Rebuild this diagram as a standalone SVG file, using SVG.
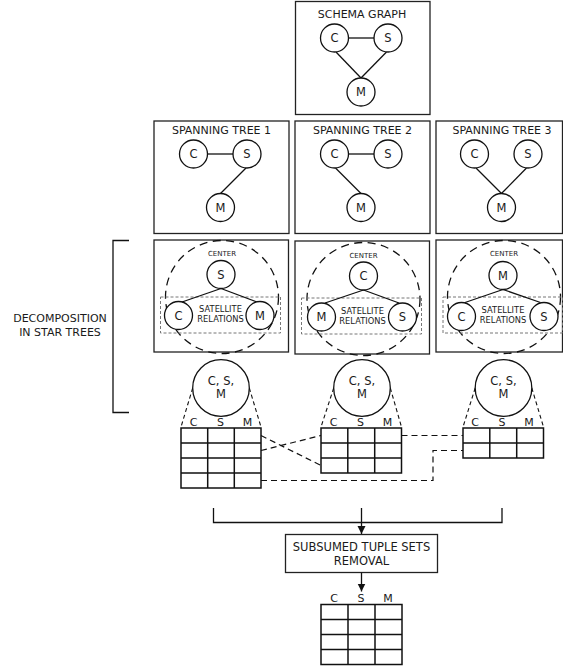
<svg xmlns="http://www.w3.org/2000/svg" width="563" height="667" viewBox="0 0 563 667">
<defs>
<style>
text{font-family:"DejaVu Sans","Liberation Sans",sans-serif;fill:#1a1a1a;text-anchor:middle}
.box{fill:#fff;stroke:#222;stroke-width:1.3}
.nd{fill:#fff;stroke:#111;stroke-width:1.3}
.e{stroke:#111;stroke-width:1.3;fill:none}
.ttl{font-size:11px}
.lbl{font-size:11.5px}
.sm{font-size:7px}
.sat{font-size:8.3px}
.star{fill:none;stroke:#111;stroke-width:1.3;stroke-dasharray:8,5.5}
.satr{fill:none;stroke:#777;stroke-width:1;stroke-dasharray:3,2}
.tbl{fill:#fff;stroke:#111;stroke-width:1.5}
.cone{stroke:#111;stroke-width:1.1;stroke-dasharray:4,3;fill:none}
.cn{stroke:#111;stroke-width:1.2;stroke-dasharray:6,4;fill:none}
.col{font-size:11px}
</style>
<marker id="arr" markerUnits="userSpaceOnUse" markerWidth="9" markerHeight="9" refX="8" refY="4" orient="auto">
<path d="M0,0 L8,4 L0,8 z" fill="#111"/>
</marker>
</defs>

<g id="schema-graph">
<rect class="box" x="295.5" y="1.5" width="134.5" height="113"/>
<text class="ttl" x="362" y="18">SCHEMA GRAPH</text>
<line class="e" x1="348.5" y1="38" x2="374" y2="38"/>
<line class="e" x1="336" y1="52" x2="361" y2="78"/>
<line class="e" x1="386.5" y1="52" x2="361" y2="78"/>
<circle class="nd" cx="334.5" cy="38" r="14"/><text class="lbl" x="334.5" y="42.2">C</text>
<circle class="nd" cx="388" cy="38" r="14"/><text class="lbl" x="388" y="42.2">S</text>
<circle class="nd" cx="361" cy="92" r="14"/><text class="lbl" x="361" y="96.2">M</text>
</g>

<g id="spanning-tree-1">
<rect class="box" x="154" y="121" width="135" height="112.5"/>
<text class="ttl" x="221.5" y="134">SPANNING TREE 1</text>
<line class="e" x1="207.5" y1="154" x2="233" y2="154"/>
<line class="e" x1="246" y1="168" x2="220.5" y2="193.5"/>
<circle class="nd" cx="193.5" cy="154" r="14"/><text class="lbl" x="193.5" y="158.2">C</text>
<circle class="nd" cx="247" cy="154" r="14"/><text class="lbl" x="247" y="158.2">S</text>
<circle class="nd" cx="220.5" cy="207.5" r="14"/><text class="lbl" x="220.5" y="211.7">M</text>
</g>

<g id="spanning-tree-2">
<rect class="box" x="295" y="121" width="135" height="112.5"/>
<text class="ttl" x="362.5" y="134">SPANNING TREE 2</text>
<line class="e" x1="348.5" y1="154" x2="374" y2="154"/>
<line class="e" x1="335.5" y1="168" x2="361" y2="193.5"/>
<circle class="nd" cx="334.5" cy="154" r="14"/><text class="lbl" x="334.5" y="158.2">C</text>
<circle class="nd" cx="388" cy="154" r="14"/><text class="lbl" x="388" y="158.2">S</text>
<circle class="nd" cx="361" cy="207.5" r="14"/><text class="lbl" x="361" y="211.7">M</text>
</g>

<g id="spanning-tree-3">
<rect class="box" x="436" y="121" width="126.5" height="112.5"/>
<text class="ttl" x="502" y="134">SPANNING TREE 3</text>
<line class="e" x1="476" y1="168" x2="501.5" y2="193.5"/>
<line class="e" x1="526.5" y1="168" x2="501.5" y2="193.5"/>
<circle class="nd" cx="474.5" cy="154" r="14"/><text class="lbl" x="474.5" y="158.2">C</text>
<circle class="nd" cx="528" cy="154" r="14"/><text class="lbl" x="528" y="158.2">S</text>
<circle class="nd" cx="501.5" cy="207.5" r="14"/><text class="lbl" x="501.5" y="211.7">M</text>
</g>

<g id="star-tree-1">
<rect class="box" x="154" y="240" width="134.5" height="112"/>
<circle class="star" cx="222" cy="297" r="56.5"/>
<rect class="satr" x="160.5" y="297" width="120" height="36"/>
<text class="sm" x="222" y="256">CENTER</text>
<line class="e" x1="221" y1="288.5" x2="182" y2="302"/>
<line class="e" x1="221" y1="288.5" x2="257" y2="302"/>
<circle class="nd" cx="221" cy="274.5" r="14"/><text class="lbl" x="221" y="278.7">S</text>
<circle class="nd" cx="178.5" cy="315.5" r="14"/><text class="lbl" x="178.5" y="319.7">C</text>
<circle class="nd" cx="260" cy="315.5" r="14"/><text class="lbl" x="260" y="319.7">M</text>
<text class="sat" x="220.5" y="312">SATELLITE</text>
<text class="sat" x="220.5" y="322">RELATIONS</text>
</g>

<g id="star-tree-2">
<rect class="box" x="295" y="241" width="134.5" height="113"/>
<circle class="star" cx="363.5" cy="299" r="56.5"/>
<rect class="satr" x="301.5" y="298" width="120" height="36"/>
<text class="sm" x="363.5" y="257.5">CENTER</text>
<line class="e" x1="363.5" y1="290" x2="325" y2="303"/>
<line class="e" x1="363.5" y1="290" x2="399" y2="303"/>
<circle class="nd" cx="363.5" cy="276" r="14"/><text class="lbl" x="363.5" y="280.2">C</text>
<circle class="nd" cx="321.5" cy="317" r="14"/><text class="lbl" x="321.5" y="321.2">M</text>
<circle class="nd" cx="402.5" cy="317" r="14"/><text class="lbl" x="402.5" y="321.2">S</text>
<text class="sat" x="362.5" y="313.5">SATELLITE</text>
<text class="sat" x="362.5" y="323.5">RELATIONS</text>
</g>

<g id="star-tree-3">
<rect class="box" x="436" y="240" width="126.5" height="112"/>
<circle class="star" cx="504" cy="297" r="56.5"/>
<rect class="satr" x="443" y="297" width="119.5" height="36"/>
<text class="sm" x="504" y="256">CENTER</text>
<line class="e" x1="503" y1="289.5" x2="465" y2="302.5"/>
<line class="e" x1="503" y1="289.5" x2="540.5" y2="302.5"/>
<circle class="nd" cx="503" cy="275.5" r="14"/><text class="lbl" x="503" y="279.7">M</text>
<circle class="nd" cx="461.5" cy="316.5" r="14"/><text class="lbl" x="461.5" y="320.7">C</text>
<circle class="nd" cx="544" cy="316.5" r="14"/><text class="lbl" x="544" y="320.7">S</text>
<text class="sat" x="503" y="312.5">SATELLITE</text>
<text class="sat" x="503" y="322.5">RELATIONS</text>
</g>

<g id="decomposition-label">
<path class="e" d="M129,240.5 H113 V412.5 H129"/>
<text class="ttl" x="60" y="322">DECOMPOSITION</text>
<text class="ttl" x="60" y="335.5">IN STAR TREES</text>
</g>

<g id="tuple-set-1">
<line class="cone" x1="192.7" y1="388" x2="181" y2="427"/>
<line class="cone" x1="249.3" y1="388" x2="261" y2="427"/>
<circle class="nd" cx="221" cy="388" r="28.3"/>
<text class="lbl" x="221" y="385">C, S,</text>
<text class="lbl" x="221" y="398">M</text>
<text class="col" x="193.5" y="426">C</text><text class="col" x="220.5" y="426">S</text><text class="col" x="247.5" y="426">M</text>
<rect class="tbl" x="181" y="428" width="80" height="60"/>
<path class="tbl" d="M207.7,428 V488 M234.3,428 V488 M181,443 H261 M181,458 H261 M181,473 H261"/>
</g>

<g id="tuple-set-2">
<line class="cone" x1="333.7" y1="388" x2="321" y2="427"/>
<line class="cone" x1="390.3" y1="388" x2="401.5" y2="427"/>
<circle class="nd" cx="362" cy="388" r="28.3"/>
<text class="lbl" x="362" y="385">C, S,</text>
<text class="lbl" x="362" y="398">M</text>
<text class="col" x="333.5" y="426">C</text><text class="col" x="360.5" y="426">S</text><text class="col" x="387.5" y="426">M</text>
<rect class="tbl" x="321" y="428" width="80.5" height="45"/>
<path class="tbl" d="M347.8,428 V473 M374.7,428 V473 M321,443 H401.5 M321,458 H401.5"/>
</g>

<g id="tuple-set-3">
<line class="cone" x1="475.2" y1="388" x2="463" y2="427"/>
<line class="cone" x1="531.8" y1="388" x2="543.5" y2="427"/>
<circle class="nd" cx="503.5" cy="388" r="28.3"/>
<text class="lbl" x="503.5" y="385">C, S,</text>
<text class="lbl" x="503.5" y="398">M</text>
<text class="col" x="475" y="426">C</text><text class="col" x="502" y="426">S</text><text class="col" x="529" y="426">M</text>
<rect class="tbl" x="463" y="428" width="80.5" height="30"/>
<path class="tbl" d="M489.8,428 V458 M516.7,428 V458 M463,443 H543.5"/>
</g>

<g id="removal">
<rect class="box" x="285.5" y="534.5" width="152" height="38"/>
<text class="lbl" x="361.5" y="551">SUBSUMED TUPLE SETS</text>
<text class="lbl" x="361.5" y="564.5">REMOVAL</text>
</g>

<g id="result-table">
<text class="col" x="334" y="602">C</text><text class="col" x="361" y="602">S</text><text class="col" x="388" y="602">M</text>
<rect class="tbl" x="321" y="604.5" width="81" height="60"/>
<path class="tbl" d="M348,604.5 V664.5 M375,604.5 V664.5 M321,619.5 H402 M321,634.5 H402 M321,649.5 H402"/>
</g>

<g id="connectors">
<line class="cn" x1="261" y1="435.5" x2="321" y2="465.5"/>
<line class="cn" x1="261" y1="450.5" x2="321" y2="435.5"/>
<line class="cn" x1="401.5" y1="435.5" x2="463" y2="435.5"/>
<path class="cn" d="M261,480.5 H433 V450.5 H463"/>
<path class="e" d="M213.5,508 V522.5 H502 V508"/>
<line class="e" x1="361.5" y1="508" x2="361.5" y2="534" marker-end="url(#arr)"/>
<line class="e" x1="361.5" y1="572.5" x2="361.5" y2="591.5" marker-end="url(#arr)"/>
</g>
</svg>
